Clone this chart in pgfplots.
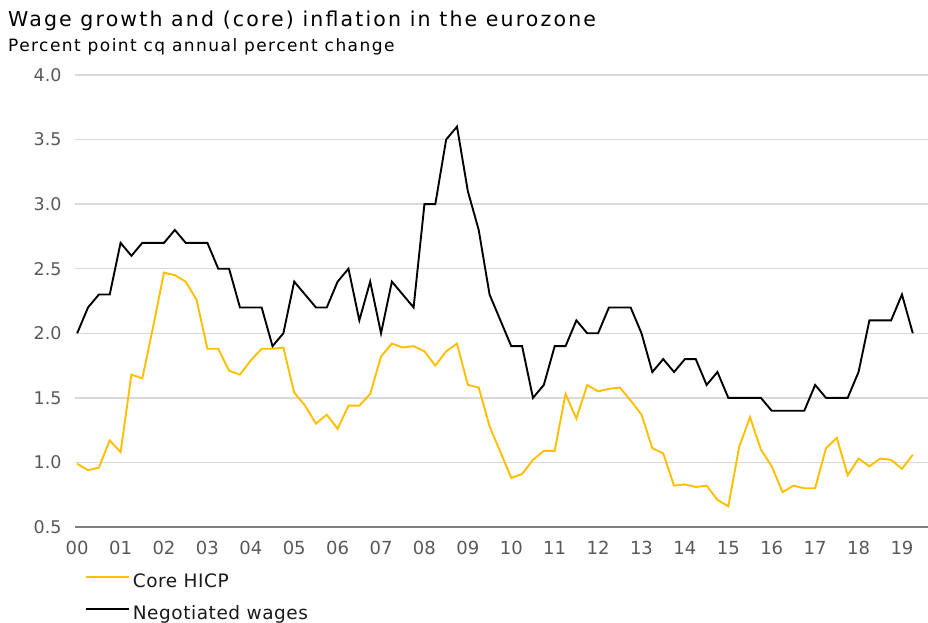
\documentclass[border=0pt]{standalone}
\usepackage{pgfplots}
\pgfplotsset{compat=1.18}
\usepackage{pgfplotstable}
\usepackage{fontspec}
\setmainfont{DejaVu Sans}
\newfontfamily\titlefont[LetterSpace=10.5]{DejaVu Sans}
\newfontfamily\subfont[LetterSpace=8.5]{DejaVu Sans}
\newfontfamily\legfont[LetterSpace=3]{DejaVu Sans}
\usetikzlibrary{calc}

\definecolor{coreyellow}{HTML}{FFBF00}
\definecolor{gridgray}{HTML}{D9D9D9}
\definecolor{axgray}{HTML}{7F7F7F}
\definecolor{tickgray}{HTML}{595959}
\definecolor{txtdark}{HTML}{1A1A1A}

% quarterly, q=0 is 2000Q1
\pgfplotstableread{
q core wages
0 0.99 2.0
1 0.94 2.2
2 0.96 2.3
3 1.17 2.3
4 1.08 2.7
5 1.68 2.6
6 1.65 2.7
7 2.05 2.7
8 2.47 2.7
9 2.45 2.8
10 2.40 2.7
11 2.26 2.7
12 1.88 2.7
13 1.88 2.5
14 1.71 2.5
15 1.68 2.2
16 1.79 2.2
17 1.88 2.2
18 1.88 1.9
19 1.89 2.0
20 1.54 2.4
21 1.44 2.3
22 1.30 2.2
23 1.37 2.2
24 1.26 2.4
25 1.44 2.5
26 1.44 2.1
27 1.53 2.4
28 1.82 2.0
29 1.92 2.4
30 1.89 2.3
31 1.90 2.2
32 1.86 3.0
33 1.75 3.0
34 1.86 3.5
35 1.92 3.6
36 1.60 3.1
37 1.58 2.8
38 1.28 2.3
39 1.08 2.1
40 0.88 1.9
41 0.91 1.9
42 1.02 1.5
43 1.09 1.6
44 1.09 1.9
45 1.53 1.9
46 1.34 2.1
47 1.60 2.0
48 1.55 2.0
49 1.57 2.2
50 1.58 2.2
51 1.48 2.2
52 1.37 2.0
53 1.11 1.7
54 1.07 1.8
55 0.82 1.7
56 0.83 1.8
57 0.81 1.8
58 0.82 1.6
59 0.71 1.7
60 0.66 1.5
61 1.12 1.5
62 1.35 1.5
63 1.10 1.5
64 0.97 1.4
65 0.77 1.4
66 0.82 1.4
67 0.80 1.4
68 0.80 1.6
69 1.11 1.5
70 1.19 1.5
71 0.90 1.5
72 1.03 1.7
73 0.97 2.1
74 1.03 2.1
75 1.02 2.1
76 0.95 2.3
77 1.06 2.0
}\datatable

\begin{document}
\begin{tikzpicture}
\begin{axis}[
  at={(0,0)}, anchor=south west,
  scale only axis,
  width=853pt, height=452pt,
  xmin=-0.2, xmax=78.4,
  ymin=0.5, ymax=4.0,
  axis x line*=bottom, axis y line*=left,
  axis line style={-},
  x axis line style={draw=axgray, line width=1.5pt},
  y axis line style={draw=none},
  xtick={0,4,...,76},
  xticklabels={00,01,02,03,04,05,06,07,08,09,10,11,12,13,14,15,16,17,18,19},
  ytick={0.5,1.0,...,4.0},
  /pgf/number format/assume math mode=true,
  yticklabel style={/pgf/number format/fixed, /pgf/number format/fixed zerofill, /pgf/number format/precision=1},
  major tick length=0pt,
  tick label style={font=\fontsize{17.5}{20}\selectfont, text=tickgray},
  xticklabel style={yshift=-11pt, font=\fontsize{18}{20}\selectfont},
  yticklabel style={xshift=-10pt},
  ymajorgrids,
  grid style={draw=gridgray, line width=1.3pt},
  clip=false,
  legend cell align=left,
  legend style={draw=none, fill=none, at={(rel axis cs:0,0)}, anchor=north west,
    xshift=10pt, yshift=-46pt, font=\legfont\fontsize{18.5}{20}\selectfont, text=txtdark,
    nodes={inner sep=0pt, text height=14pt, text depth=4pt},
    row sep=14pt, column sep=0pt, inner sep=0pt,
    /tikz/every odd column/.append style={column sep=3pt}},
  legend image code/.code={\draw[#1, line width=1.6pt] (0pt,5.5pt) -- (43pt,5.5pt);},
]
\addplot[coreyellow, line width=1.9pt] table[x=q, y=core] {\datatable};
\addlegendentry{Core HICP}
\addplot[black, line width=1.9pt] table[x=q, y=wages] {\datatable};
\addlegendentry{Negotiated wages}
\coordinate (bl) at (rel axis cs:0,0);
\node[anchor=base west, font=\titlefont\fontsize{20.5}{24}\selectfont, text=black, inner sep=0pt]
  at ([xshift=-67pt, yshift=500pt]rel axis cs:0,0) {Wage growth and (core) inflation in the eurozone};
\node[anchor=base west, font=\subfont\fontsize{17}{20}\selectfont, text=black, inner sep=0pt]
  at ([xshift=-67pt, yshift=475pt]rel axis cs:0,0) {Percent point cq annual percent change};
\end{axis}
\pgfresetboundingbox
\path[use as bounding box] ($(bl)+(-75pt,-96pt)$) rectangle ($(bl)+(853pt,527pt)$);
\end{tikzpicture}
\end{document}
